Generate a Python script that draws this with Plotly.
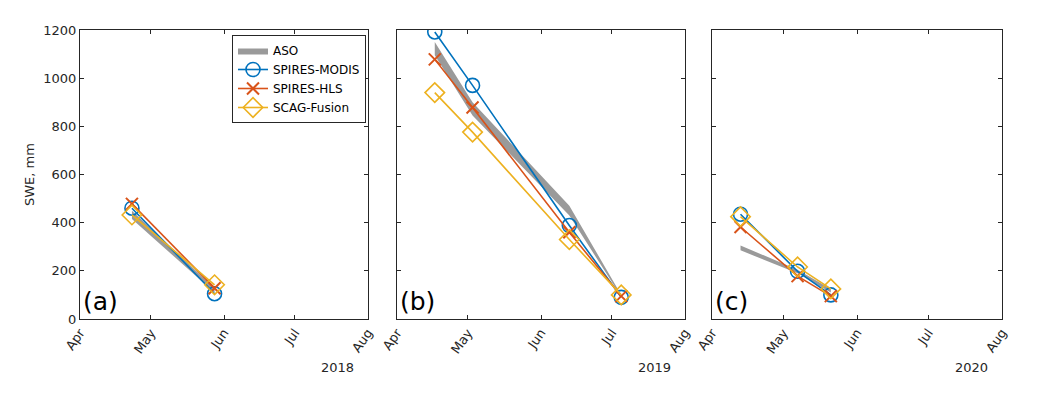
import plotly.graph_objects as go

# ---- datos ----
fechas_a = ["2018-04-23", "2018-05-28"]
aso_sup_a = [450, 128]
aso_inf_a = [415, 110]
modis_a = [460, 105]
hls_a = [478, 128]
scag_a = [432, 142]

fechas_b = ["2019-04-17", "2019-05-03", "2019-06-13", "2019-07-05"]
aso_sup_b = [1150, 900, 470, 100]
aso_inf_b = [1095, 845, 430, 92]
modis_b = [1192, 970, 388, 90]
hls_b = [1078, 878, 360, 95]
scag_b = [940, 776, 330, 100]

fechas_c = ["2020-04-13", "2020-05-07", "2020-05-21"]
aso_sup_c = [305, 205, 125]
aso_inf_c = [285, 190, 110]
modis_c = [435, 198, 100]
hls_c = [382, 178, 95]
scag_c = [425, 216, 125]

anios = ["2018", "2019", "2020"]
etiquetas = ["(a)", "(b)", "(c)"]
meses = ["Apr", "May", "Jun", "Jul", "Aug"]

AZUL = "#0072BD"
NARANJA = "#D95319"
AMARILLO = "#EDB120"
GRIS = "#9a9a9a"
EJE = "#262626"
FUENTE = "DejaVu Sans"

paneles = [
    (fechas_a, aso_sup_a, aso_inf_a, modis_a, hls_a, scag_a),
    (fechas_b, aso_sup_b, aso_inf_b, modis_b, hls_b, scag_b),
    (fechas_c, aso_sup_c, aso_inf_c, modis_c, hls_c, scag_c),
]

# la pagina tiene 8 px de margen en el body: todo se mide en pixeles de pagina
OFF = 8
W, H = 1038 - 2 * OFF, 396 - 2 * OFF


def px(x):
    return (x - OFF) / W


def py(y):
    return 1 - (y - OFF) / H


dominios = [(80, 368), (397, 685), (712, 1002)]
y_dom = (py(319), py(30))

fig = go.Figure()

for i, (fechas, sup, inf, modis, hls, scag) in enumerate(paneles):
    n = "" if i == 0 else str(i + 1)
    xa, ya = "x" + n, "y" + n
    ley = i == 0
    fig.add_trace(go.Scatter(x=fechas, y=inf, mode="lines", line=dict(width=0, color=GRIS),
                             showlegend=False, hoverinfo="skip", xaxis=xa, yaxis=ya))
    fig.add_trace(go.Scatter(x=fechas, y=sup, mode="lines", fill="tonexty", fillcolor=GRIS,
                             line=dict(width=0, color=GRIS), name="ASO", showlegend=ley,
                             xaxis=xa, yaxis=ya))
    fig.add_trace(go.Scatter(x=fechas, y=modis, mode="lines+markers", name="SPIRES-MODIS",
                             line=dict(color=AZUL, width=1.6),
                             marker=dict(symbol="circle-open", size=14, line=dict(width=1.6, color=AZUL)),
                             showlegend=ley, xaxis=xa, yaxis=ya))
    fig.add_trace(go.Scatter(x=fechas, y=hls, mode="lines+markers", name="SPIRES-HLS",
                             line=dict(color=NARANJA, width=1.6),
                             marker=dict(symbol="x-thin-open", size=12, line=dict(width=2, color=NARANJA)),
                             showlegend=ley, xaxis=xa, yaxis=ya))
    fig.add_trace(go.Scatter(x=fechas, y=scag, mode="lines+markers", name="SCAG-Fusion",
                             line=dict(color=AMARILLO, width=1.6),
                             marker=dict(symbol="diamond-open", size=15, line=dict(width=1.6, color=AMARILLO)),
                             showlegend=ley, xaxis=xa, yaxis=ya))

    x0, x1 = dominios[i]
    anio = anios[i]
    fig.update_layout({
        "xaxis" + n: dict(
            domain=[px(x0), px(x1)], anchor=ya, automargin=False,
            range=[f"{anio}-04-01", f"{anio}-08-01"],
            tickvals=[f"{anio}-{m:02d}-01" for m in range(4, 9)], ticktext=meses,
            tickangle=-55, ticks="inside", ticklen=4, tickcolor=EJE,
            showline=True, linecolor=EJE, linewidth=1, mirror="ticks",
            showgrid=False, zeroline=False,
            tickfont=dict(family=FUENTE, size=13, color=EJE),
        ),
        "yaxis" + n: dict(
            domain=list(y_dom), anchor=xa, automargin=False,
            range=[0, 1200], dtick=200, ticks="inside", ticklen=4, tickcolor=EJE,
            showline=True, linecolor=EJE, linewidth=1, mirror="ticks",
            showgrid=False, zeroline=False, showticklabels=(i == 0),
            tickfont=dict(family=FUENTE, size=13, color=EJE),
        ),
    })
    # anio bajo el eje
    fig.add_annotation(x=px(x1 - 12), y=py(367), xref="paper", yref="paper",
                       text=anio, showarrow=False, xanchor="right", yanchor="middle",
                       font=dict(family=FUENTE, size=13, color=EJE))
    # etiqueta del panel
    fig.add_annotation(x=px(x0 + 1), y=py(318), xref="paper", yref="paper",
                       text=etiquetas[i], showarrow=False, xanchor="left", yanchor="bottom",
                       font=dict(family=FUENTE, size=25, color="black"))

# titulo del eje y
fig.add_annotation(x=px(30), y=py(175), xref="paper", yref="paper", text="SWE, mm",
                   showarrow=False, textangle=-90, xanchor="center", yanchor="middle",
                   font=dict(family=FUENTE, size=13, color=EJE))

fig.update_layout(
    width=W, height=H,
    margin=dict(l=0, r=0, t=0, b=0),
    paper_bgcolor="white", plot_bgcolor="white",
    font=dict(family=FUENTE, color=EJE),
    legend=dict(x=px(232), y=py(35), xanchor="left", yanchor="top",
                traceorder="normal",
                bgcolor="white", bordercolor=EJE, borderwidth=1,
                font=dict(family=FUENTE, size=12, color="black"),
                tracegroupgap=0, itemwidth=30),
)

fig.write_html("out.html")
